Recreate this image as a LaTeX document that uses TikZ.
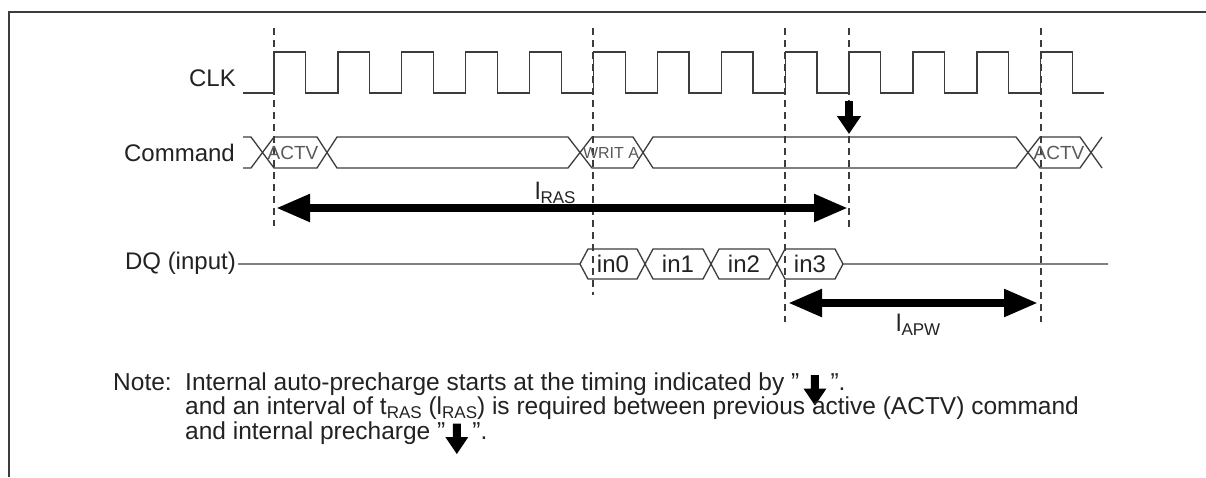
\documentclass[tikz,border=0pt]{standalone}
\usepackage{fontspec}
\setmainfont{Liberation Sans}
\usetikzlibrary{arrows.meta}
\definecolor{ln}{HTML}{3C3C3C}
\definecolor{tx}{HTML}{222222}
\newcommand\pcarrow{\tikz[x=1pt,y=1pt,baseline=0pt]\fill[black] (-4,15.5) -- (4,15.5) -- (4,2) -- (11.5,2) -- (0,-15) -- (-11.5,2) -- (-4,2) -- cycle;}
\newcommand\lowsub[1]{\raisebox{-0.19em}{\fontsize{17}{17}\selectfont #1}}
\begin{document}
\begin{tikzpicture}[x=1pt,y=-1pt,
  sig/.style={draw=ln, line width=1.3pt, line join=miter},
  guide/.style={draw=ln, line width=1.2pt, dash pattern=on 7pt off 5pt},
  lab/.style={text=tx, font=\fontsize{24}{26}\selectfont, inner sep=0pt},
  buslab/.style={text=ln!85, font=\fontsize{19}{20}\selectfont, inner sep=0pt},
  smallbuslab/.style={text=ln!85, font=\fontsize{16}{18}\selectfont, inner sep=0pt},
  notetext/.style={text=tx, font=\fontsize{24.5}{25}\selectfont, inner sep=0pt, anchor=base west},
  bigarrow/.style={draw=black, line width=8pt, {Triangle[length=34pt,width=26pt]}-{Triangle[length=34pt,width=26pt]}},
  downarrow/.style={draw=black, line width=8pt, -{Triangle[length=18pt,width=23pt]}}]
\useasboundingbox (0,0) rectangle (1206,477);
\fill[white] (0,0) rectangle (1206,477);
% frame
\draw[ln, line width=2pt] (9,477) -- (9,12) -- (1206,12);
% guides
\draw[guide] (274,28) -- (274,226);
\draw[guide] (593,28) -- (593,295);
\draw[guide] (785,28) -- (785,322);
\draw[guide] (849,28) -- (849,227);
\draw[guide] (1041,28) -- (1041,322);
% labels
\node[lab, anchor=east] (clk) at (236,78) {CLK};
\node[lab, anchor=east] (cmd) at (235,152.5) {Command};
\node[lab, anchor=east] (dq) at (236,263) {DQ (input)};
% clock
\draw[sig] (243,93) \foreach \k in {0,...,12}{ -- ({274+63.9*\k},93) -- ({274+63.9*\k},52) -- ({305.7+63.9*\k},52) -- ({305.7+63.9*\k},93)} -- (1104,93);
% command bus
\draw[sig] (243,137)--(251,137)--(274,168)--(317,168)--(337,137)--(568,137)--(592,168)--(633,168)--(653,137)--(1016,137)--(1040,168)--(1080,168)--(1102,137);
\draw[sig] (243,168)--(251,168)--(274,137)--(317,137)--(337,168)--(568,168)--(592,137)--(633,137)--(653,168)--(1016,168)--(1040,137)--(1080,137)--(1102,168);
\node[buslab] (actv1) at (293,153) {ACTV};
\node[smallbuslab] (writa) at (611,153) {WRIT A};
\node[buslab] (actv2) at (1059,153) {ACTV};
% DQ bus
\draw[sig] (238,264)--(580,264)--(588,249)--(637,249)--(653,279)--(703,279)--(719,249)--(769,249)--(785,279)--(835,279)--(843,264)--(1108,264);
\draw[sig] (580,264)--(588,279)--(637,279)--(653,249)--(703,249)--(719,279)--(769,279)--(785,249)--(835,249)--(843,264);
\node[lab] (in0) at (613,264) {in0};
\node[lab] (in1) at (678,264) {in1};
\node[lab] (in2) at (744,264) {in2};
\node[lab] (in3) at (810,264) {in3};
% precharge arrow
\coordinate (pa) at (849,101);
\coordinate (pb) at (849,134);
\draw[downarrow] (pa) -- (pb);
% lRAS
\coordinate (rasL) at (276,208);
\coordinate (rasR) at (848,208);
\draw[bigarrow] (rasL) -- (rasR);
\node[lab, anchor=base west] (lras) at (535,199) {l\lowsub{RAS}};
% lAPW
\coordinate (apwL) at (788,303);
\coordinate (apwR) at (1038,303);
\draw[bigarrow] (apwL) -- (apwR);
\node[lab, anchor=base west] (lapw) at (896,331) {l\lowsub{APW}};
% note
\node[notetext] (note) at (113,390.5) {Note:};
\node[notetext] (n1) at (185,390.5) {Internal auto-precharge starts at the timing indicated by "\,\pcarrow\,".};
\node[notetext] (n2) at (185,414) {and an interval of t\lowsub{RAS} (l\lowsub{RAS}) is required between previous active (ACTV) command};
\node[notetext] (n3) at (185,439) {and internal precharge "\pcarrow\,".};
\end{tikzpicture}
\end{document}
